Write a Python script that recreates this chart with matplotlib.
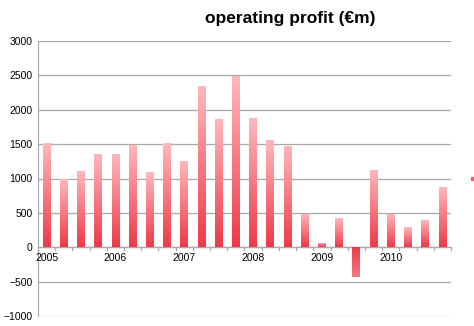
import numpy as np
import matplotlib
matplotlib.use("Agg")
import matplotlib.pyplot as plt
from matplotlib.colors import LinearSegmentedColormap
from matplotlib.patches import Rectangle

plt.rcParams['font.family'] = ['Liberation Sans', 'DejaVu Sans']

years = ['2005', '2006', '2007', '2008', '2009', '2010']
profit = [1510, 990, 1110, 1360, 1360, 1490, 1090, 1510,
          1260, 2350, 1860, 2490, 1880, 1560, 1470, 490,
          60, 420, -430, 1130, 490, 290, 400, 880]
labels = []
for y in years:
    labels += [y, '', '', '']

fig = plt.figure(figsize=(4.74, 3.26), dpi=100)
ax = fig.add_axes([38/474, 1 - 316/326, (451-38)/474, (316-41)/326])

x = np.arange(len(profit))
w = 0.45
cmap = LinearSegmentedColormap.from_list('grad', ['#ee3a48', '#ffb8bc'])
grad = np.linspace(0, 1, 64).reshape(-1, 1)

bars = ax.bar(x, profit, width=w, color='none', zorder=3)
for b, v in zip(bars, profit):
    x0 = b.get_x()
    lo, hi = (0, v) if v >= 0 else (v, 0)
    g = grad if v >= 0 else grad[::-1] * 0.5
    im = ax.imshow(g, cmap=cmap, origin='lower', aspect='auto', vmin=0, vmax=1,
                   extent=(x0, x0 + w, lo, hi), zorder=3)
    im.set_clip_path(b)

ax.set_xlim(-0.5, len(profit) - 0.5)
ax.set_ylim(-1000, 3000)
ax.set_yticks(range(-1000, 3001, 500))
ax.yaxis.grid(True, color='#a8a8a8', lw=0.9)
ax.set_axisbelow(True)
for s in ['top', 'right', 'bottom']:
    ax.spines[s].set_visible(False)
ax.spines['left'].set_color('#a8a8a8')
ax.axhline(0, color='#a8a8a8', lw=0.9, zorder=2)
ax.tick_params(axis='y', length=0, labelsize=7.5, pad=4)
ax.set_xticks([])
# category boundary ticks on the zero line
for i in range(len(profit) + 1):
    ax.plot([i - 0.5, i - 0.5], [0, -40], color='#a8a8a8', lw=0.9, zorder=2, clip_on=False)
for i, lab in enumerate(labels):
    if lab:
        ax.text(i, -90, lab, ha='center', va='top', fontsize=7.5)

fig.text(290/474, 1 - 18/326, 'operating profit (€m)', ha='center', va='center',
         fontsize=12.5, fontweight='bold')
fig.patches.append(Rectangle((471/474, 1 - 180/326), 3/474, 3/326,
                             transform=fig.transFigure, color='#f06070'))

fig.savefig('out.png', dpi=100)
